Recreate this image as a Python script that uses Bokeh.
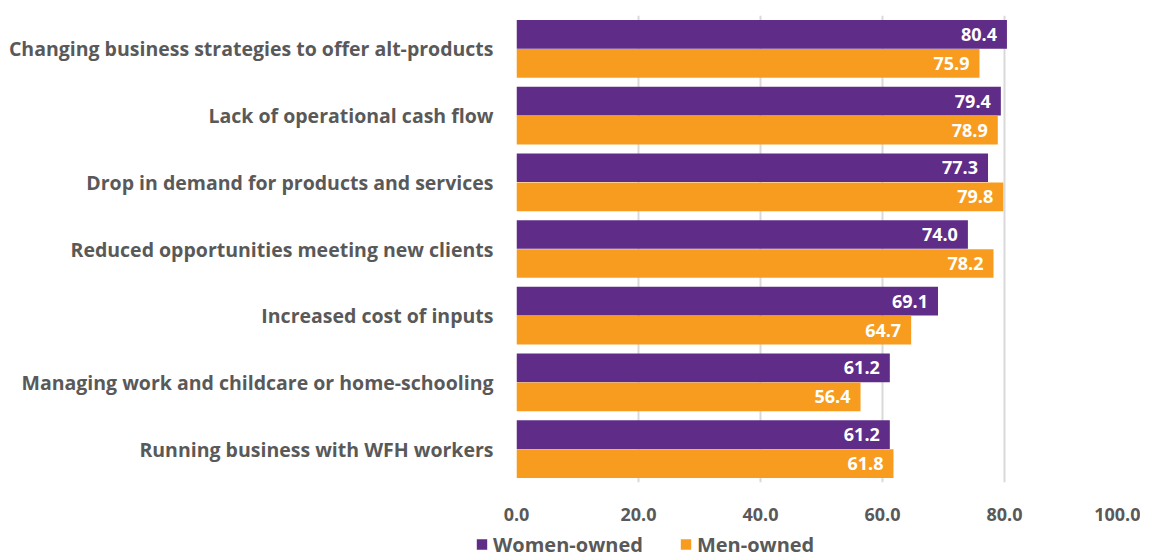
from bokeh.plotting import figure
from bokeh.layouts import column, row
from bokeh.models import (ColumnDataSource, FactorRange, LabelSet, Legend, LegendItem,
                          FixedTicker, Range1d, Spacer)
from bokeh.transform import dodge
from bokeh.core.properties import value
from bokeh.embed import file_html
from bokeh.resources import INLINE

categories = [
    "Changing business strategies to offer alt-products",
    "Lack of operational cash flow",
    "Drop in demand for products and services",
    "Reduced opportunities meeting new clients",
    "Increased cost of inputs",
    "Managing work and childcare or home-schooling",
    "Running business with WFH workers",
]
women_owned = [80.4, 79.4, 77.3, 74.0, 69.1, 61.2, 61.2]
men_owned = [75.9, 78.9, 79.8, 78.2, 64.7, 56.4, 61.8]
x_ticks = [0, 20, 40, 60, 80, 100]
series_names = ["Women-owned", "Men-owned"]

PURPLE = "#5F2C87"
ORANGE = "#F79C1E"
GREY = "#595959"
FONT = "Open Sans"

src = ColumnDataSource(dict(
    cat=categories,
    women=women_owned,
    men=men_owned,
    women_lbl=[f"{v:.1f}" for v in women_owned],
    men_lbl=[f"{v:.1f}" for v in men_owned],
))

p = figure(
    frame_width=610, frame_height=467,
    y_range=FactorRange(*reversed(categories), range_padding=0),
    x_range=Range1d(0, 100),
    output_backend="svg", toolbar_location=None,
    min_border_left=516, min_border_right=14, min_border_top=15, min_border_bottom=50,
)
p.outline_line_color = None
p.background_fill_color = "white"
p.border_fill_color = "white"

p.hbar(y=dodge("cat", 0.2175, range=p.y_range), right="women", left=0, height=0.43,
       source=src, fill_color=PURPLE, line_color=None)
p.hbar(y=dodge("cat", -0.2175, range=p.y_range), right="men", left=0, height=0.43,
       source=src, fill_color=ORANGE, line_color=None)

for col, lbl, off in (("women", "women_lbl", 0.2175), ("men", "men_lbl", -0.2175)):
    ls = LabelSet(x=col, y=dodge("cat", off, range=p.y_range), text=lbl, source=src,
                  x_offset=-10, text_align="right", text_baseline="middle",
                  text_color="white", text_font=value(FONT), text_font_style="bold",
                  text_font_size="18px")
    p.add_layout(ls)

p.xaxis.ticker = FixedTicker(ticks=x_ticks)
p.xaxis.major_label_overrides = {t: f"{t:.1f}" for t in x_ticks}
p.xaxis.axis_line_color = None
p.xaxis.major_tick_line_color = None
p.xaxis.minor_tick_line_color = None
p.xaxis.major_tick_out = 0
p.xaxis.major_tick_in = 0
p.xaxis.major_label_standoff = 25
p.xaxis.major_label_text_font = FONT
p.xaxis.major_label_text_font_style = "bold"
p.xaxis.major_label_text_font_size = "18px"
p.xaxis.major_label_text_color = GREY

p.yaxis.axis_line_color = None
p.yaxis.major_tick_line_color = None
p.yaxis.minor_tick_line_color = None
p.yaxis.major_label_standoff = 17
p.yaxis.major_label_text_font = FONT
p.yaxis.major_label_text_font_style = "bold"
p.yaxis.major_label_text_font_size = "19.5px"
p.yaxis.major_label_text_color = GREY

p.ygrid.grid_line_color = None
p.xgrid.grid_line_color = "#D9D9D9"
p.xgrid.grid_line_width = 2

# legend strip below the chart; its swatch renderers are hidden, only the legend shows
lg = figure(width=400, height=24, output_backend="svg", toolbar_location=None,
            x_axis_type=None, y_axis_type=None, min_border=0,
            x_range=Range1d(0, 100), y_range=FactorRange(*categories))
lg.outline_line_color = None
lg.grid.grid_line_color = None
sw_w = lg.hbar(y="cat", right="women", left=0, height=0.43, source=src,
               fill_color=PURPLE, line_color=None, visible=False)
sw_m = lg.hbar(y="cat", right="men", left=0, height=0.43, source=src,
               fill_color=ORANGE, line_color=None, visible=False)

legend = Legend(
    items=[LegendItem(label=series_names[0], renderers=[sw_w]),
           LegendItem(label=series_names[1], renderers=[sw_m])],
    orientation="horizontal", location="left",
    label_text_font=FONT, label_text_font_style="bold", label_text_font_size="20px",
    label_text_color=GREY, glyph_width=13, glyph_height=13, spacing=36,
    label_standoff=5, label_height=20, border_line_color=None, background_fill_alpha=0,
    padding=0, margin=0, click_policy="none",
)
lg.add_layout(legend, "center")

layout = column(p, row(Spacer(width=475, height=24), lg, spacing=0), spacing=0)
open("out.html", "w").write(file_html(layout, INLINE))
